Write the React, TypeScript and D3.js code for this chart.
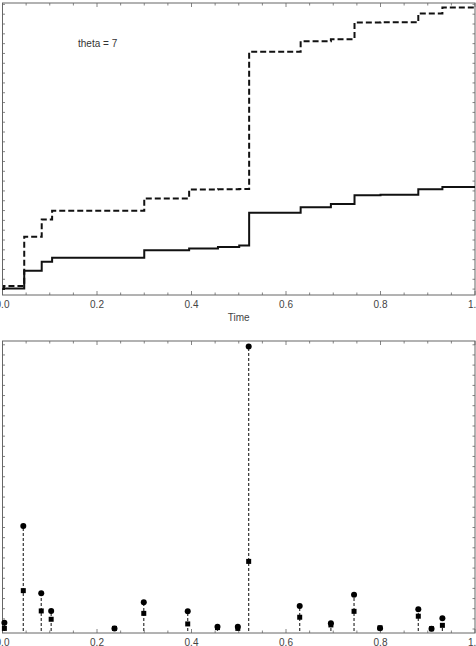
import { useRef, useEffect } from 'react';
import * as d3 from 'd3';

// step times shared by both cumulative curves (top panel)
const stepTimes = [0, 0.003, 0.046, 0.083, 0.105, 0.3, 0.395, 0.456, 0.501, 0.522, 0.631, 0.695, 0.745, 0.8, 0.88, 0.931, 1];
const dashedLevels = [0, 0.31, 5.33, 7.1, 7.97, 9.24, 10.15, 10.17, 10.2, 24.17, 25.25, 25.46, 27.16, 27.17, 28.08, 28.69, 28.69];
const solidLevels = [0, 0.05, 1.86, 2.78, 3.19, 3.97, 4.14, 4.28, 4.45, 7.77, 8.35, 8.66, 9.57, 9.62, 10.18, 10.39, 10.39];

// jump sizes (bottom panel)
const jumpTimes = [0.004, 0.044, 0.082, 0.103, 0.237, 0.299, 0.392, 0.455, 0.498, 0.521, 0.629, 0.695, 0.744, 0.799, 0.88, 0.908, 0.931];
const circleValues = [0.031, 0.507, 0.176, 0.089, 0.002, 0.132, 0.087, 0.011, 0.011, 1.391, 0.113, 0.028, 0.169, 0.004, 0.097, 0.001, 0.053];
const squareValues = [0.003, 0.189, 0.089, 0.048, 0.003, 0.077, 0.025, 0.007, 0.003, 0.333, 0.058, 0.02, 0.087, 0.006, 0.063, 0.0015, 0.018];

const xTickLabels = ['0.0', '0.2', '0.4', '0.6', '0.8', '1.0'];
const annotation = 'theta = 7';
const xTitle = 'Time';

const W = 476;
const H = 646;

export default function App() {
  const svgRef = useRef<SVGSVGElement>(null);

  useEffect(() => {
    if (!svgRef.current) return;
    const svg = d3.select(svgRef.current);
    svg.selectAll('*').remove();

    const axisColor = '#666';
    const font = 'Liberation Sans, Arial, sans-serif';

    const xScale = d3.scaleLinear().domain([0, 1]).range([2.5, 475]);

    const topPanel = { top: 3, bottom: 295 };
    const botPanel = { top: 341, bottom: 633 };

    const yTop = d3.scaleLinear().domain([-0.6, 29.14]).range([topPanel.bottom, topPanel.top]);
    const yBot = d3.scaleLinear().domain([-0.0197, 1.4187]).range([botPanel.bottom, botPanel.top]);

    // frame with inward ticks
    const drawFrame = (panel: { top: number; bottom: number }, yTicks: number[], yScale: d3.ScaleLinear<number, number>) => {
      const g = svg.append('g');
      const x0 = xScale(0);
      const x1 = xScale(1);
      g.append('rect')
        .attr('x', x0)
        .attr('y', panel.top)
        .attr('width', x1 - x0)
        .attr('height', panel.bottom - panel.top)
        .attr('fill', 'none')
        .attr('stroke', axisColor)
        .attr('stroke-width', 1);

      const xt = d3.range(0, 21).map(i => i * 0.05);
      xt.forEach((t, i) => {
        const len = i % 4 === 0 ? 4 : 2.5;
        const x = xScale(t);
        g.append('line').attr('x1', x).attr('x2', x)
          .attr('y1', panel.bottom).attr('y2', panel.bottom - len)
          .attr('stroke', axisColor).attr('stroke-width', 0.8);
        g.append('line').attr('x1', x).attr('x2', x)
          .attr('y1', panel.top).attr('y2', panel.top + len)
          .attr('stroke', axisColor).attr('stroke-width', 0.8);
      });

      yTicks.forEach(v => {
        const y = yScale(v);
        if (y < panel.top || y > panel.bottom) return;
        g.append('line').attr('x1', x0).attr('x2', x0 + 2.5)
          .attr('y1', y).attr('y2', y)
          .attr('stroke', axisColor).attr('stroke-width', 0.8);
        g.append('line').attr('x1', x1).attr('x2', x1 - 2.5)
          .attr('y1', y).attr('y2', y)
          .attr('stroke', axisColor).attr('stroke-width', 0.8);
      });

      xTickLabels.forEach((lab, i) => {
        g.append('text')
          .attr('x', xScale(i * 0.2))
          .attr('y', panel.bottom + 13)
          .attr('text-anchor', 'middle')
          .attr('font-family', font)
          .attr('font-size', 10)
          .attr('fill', '#444')
          .text(lab);
      });
    };

    drawFrame(topPanel, d3.range(0, 30), yTop);
    drawFrame(botPanel, d3.range(0, 29).map(i => i * 0.05), yBot);

    // top panel curves
    const line = d3.line<number>()
      .x((_, i) => xScale(stepTimes[i]))
      .y(d => yTop(d))
      .curve(d3.curveStepAfter);

    svg.append('path')
      .datum(solidLevels)
      .attr('fill', 'none')
      .attr('stroke', '#111')
      .attr('stroke-width', 2)
      .attr('d', line);

    svg.append('path')
      .datum(dashedLevels)
      .attr('fill', 'none')
      .attr('stroke', '#111')
      .attr('stroke-width', 2)
      .attr('stroke-dasharray', '6,3')
      .attr('d', line);

    svg.append('text')
      .attr('x', 78)
      .attr('y', 47)
      .attr('font-family', font)
      .attr('font-size', 10)
      .attr('fill', '#333')
      .text(annotation);

    svg.append('text')
      .attr('x', (xScale(0) + xScale(1)) / 2)
      .attr('y', 321)
      .attr('text-anchor', 'middle')
      .attr('font-family', font)
      .attr('font-size', 10)
      .attr('fill', '#444')
      .text(xTitle);

    // bottom panel stems + markers
    const g2 = svg.append('g');
    jumpTimes.forEach((t, i) => {
      g2.append('line')
        .attr('x1', xScale(t)).attr('x2', xScale(t))
        .attr('y1', botPanel.bottom - 2)
        .attr('y2', yBot(circleValues[i]))
        .attr('stroke', '#333')
        .attr('stroke-width', 1.2)
        .attr('stroke-dasharray', '3,2');
    });
    jumpTimes.forEach((t, i) => {
      g2.append('circle')
        .attr('cx', xScale(t))
        .attr('cy', yBot(circleValues[i]))
        .attr('r', 3)
        .attr('fill', '#000');
    });
    jumpTimes.forEach((t, i) => {
      g2.append('rect')
        .attr('x', xScale(t) - 2.5)
        .attr('y', yBot(squareValues[i]) - 2.5)
        .attr('width', 5)
        .attr('height', 5)
        .attr('fill', '#000');
    });
  }, []);

  return (
    <svg
      ref={svgRef}
      width={W}
      height={H}
      style={{ position: 'absolute', left: 0, top: 0, background: '#fff' }}
    />
  );
}
